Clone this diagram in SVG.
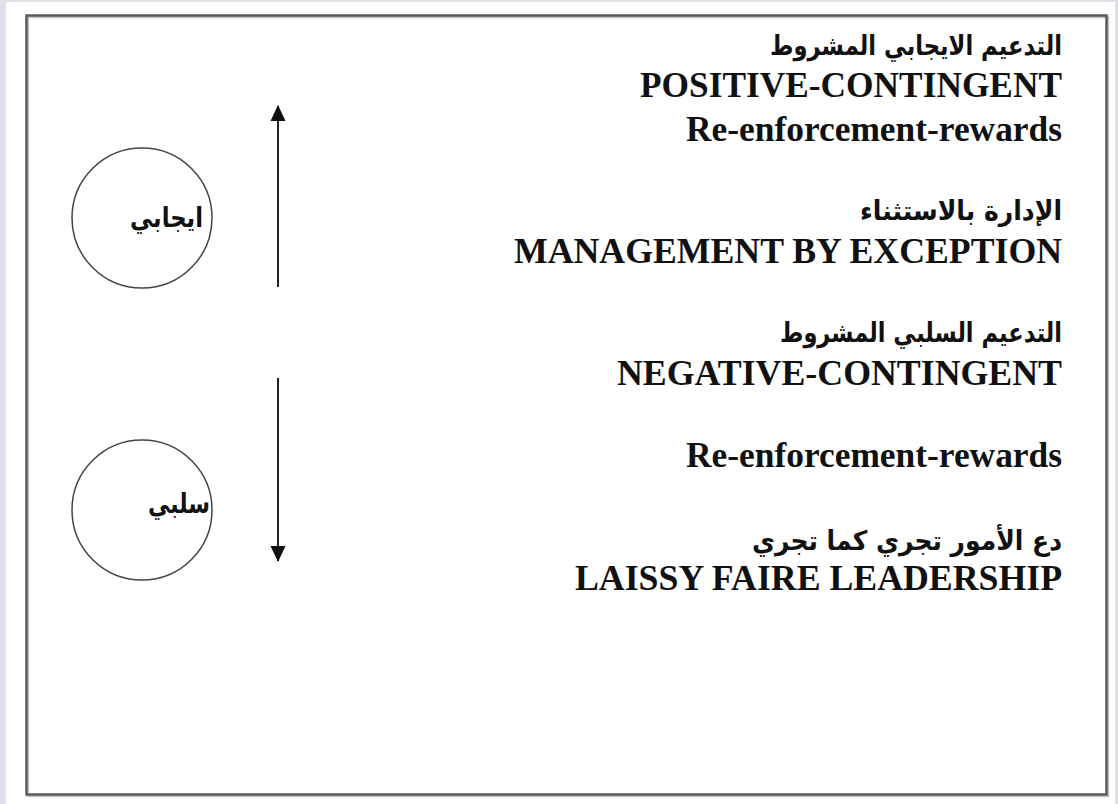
<svg xmlns="http://www.w3.org/2000/svg" width="1118" height="804" viewBox="0 0 1118 804">
  <style>
    .en { font-family: "Liberation Serif", "Times New Roman", serif; font-weight: bold; font-size: 35px; fill: #111; }
    .ar { font-family: "DejaVu Sans", "Noto Sans", sans-serif; font-weight: bold; font-size: 27px; fill: #111; }
    .circ { fill: none; stroke: #444; stroke-width: 1.5; }
    .conn { stroke: #222; stroke-width: 2; fill: none; }
  </style>
  <defs>
    <marker id="arrowBig" viewBox="0 0 16 16" refX="15" refY="8" markerWidth="16" markerHeight="16" markerUnits="userSpaceOnUse" orient="auto">
      <path d="M0,0.5 L16,8 L0,15.5 Z" fill="#111"/>
    </marker>
  </defs>
  <rect x="0" y="0" width="1118" height="804" fill="#dde0e6"/>
  <rect x="6" y="2" width="1109" height="802" fill="#ffffff"/>
  <rect x="28" y="17" width="1080" height="779" fill="none" stroke="#c8c8c8" stroke-width="2.5"/>
  <rect x="26.5" y="15.5" width="1080" height="779" fill="none" stroke="#5a5a5a" stroke-width="2.5"/>

  <g id="connectors">
    <line class="conn" x1="278" y1="287" x2="278" y2="106" marker-end="url(#arrowBig)"/>
    <line class="conn" x1="278" y1="378" x2="278" y2="561" marker-end="url(#arrowBig)"/>
  </g>

  <g id="node-positive">
    <circle class="circ" cx="142" cy="218" r="70"/>
    <text class="ar" x="203" y="227" text-anchor="end" font-size="25" textLength="73" lengthAdjust="spacingAndGlyphs">ايجابي</text>
  </g>
  <g id="node-negative">
    <circle class="circ" cx="142" cy="510" r="70"/>
    <text class="ar" x="210" y="513" text-anchor="end" font-size="25" textLength="62" lengthAdjust="spacingAndGlyphs">سلبي</text>
  </g>

  <g id="label-positive">
    <text class="ar" x="1062" y="55" text-anchor="end" textLength="292" lengthAdjust="spacingAndGlyphs">التدعيم الايجابي المشروط</text>
    <text class="en" x="1062" y="97" text-anchor="end" textLength="422" lengthAdjust="spacingAndGlyphs">POSITIVE-CONTINGENT</text>
    <text class="en" x="1062" y="141" text-anchor="end" textLength="376" lengthAdjust="spacingAndGlyphs">Re-enforcement-rewards</text>
  </g>
  <g id="label-exception">
    <text class="ar" x="1062" y="220" text-anchor="end" textLength="202" lengthAdjust="spacingAndGlyphs">الإدارة بالاستثناء</text>
    <text class="en" x="1062" y="263" text-anchor="end" textLength="548" lengthAdjust="spacingAndGlyphs">MANAGEMENT BY EXCEPTION</text>
  </g>
  <g id="label-negative">
    <text class="ar" x="1062" y="342" text-anchor="end" textLength="282" lengthAdjust="spacingAndGlyphs">التدعيم السلبي المشروط</text>
    <text class="en" x="1062" y="385" text-anchor="end" textLength="445" lengthAdjust="spacingAndGlyphs">NEGATIVE-CONTINGENT</text>
    <text class="en" x="1062" y="467" text-anchor="end" textLength="376" lengthAdjust="spacingAndGlyphs">Re-enforcement-rewards</text>
  </g>
  <g id="label-laissez">
    <text class="ar" x="1062" y="550" text-anchor="end" textLength="310" lengthAdjust="spacingAndGlyphs">دع الأمور تجري كما تجري</text>
    <text class="en" x="1062" y="590" text-anchor="end" textLength="487" lengthAdjust="spacingAndGlyphs">LAISSY FAIRE LEADERSHIP</text>
  </g>
</svg>
